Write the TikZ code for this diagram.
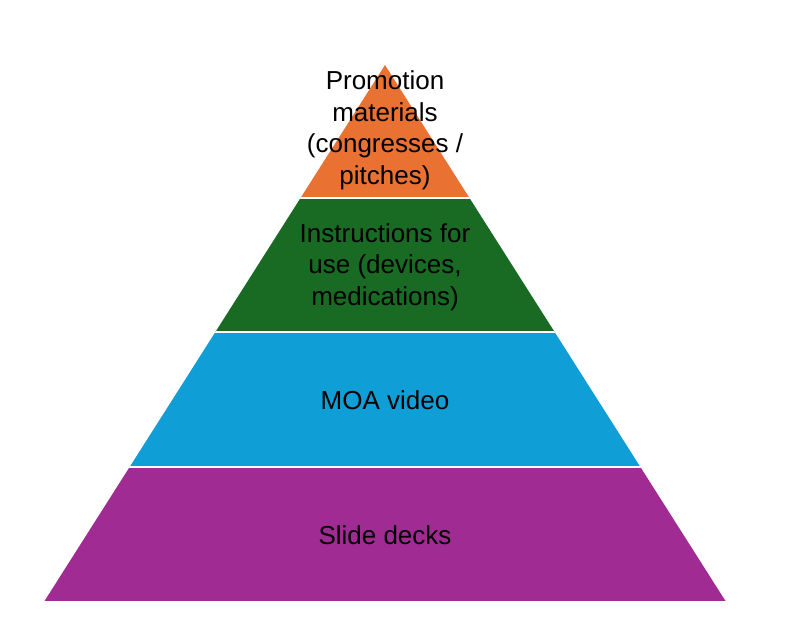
\documentclass[tikz,border=0pt]{standalone}
\usepackage{fontspec}
\setmainfont{Liberation Sans}
\definecolor{porange}{HTML}{E97132}
\definecolor{pgreen}{HTML}{196B24}
\definecolor{pblue}{HTML}{0F9ED5}
\definecolor{ppurple}{HTML}{A02B93}
\begin{document}
\begin{tikzpicture}[x=1pt,y=-1pt,
  label/.style={align=center,font=\fontsize{26}{31.5}\selectfont,text=black,inner sep=0pt}]
\useasboundingbox (0,0) rectangle (792,633);
\begin{scope}
  \clip (385,65) -- (725.5,601) -- (44.5,601) -- cycle;
  \fill[porange] (0,0) rectangle (792,198);
  \fill[pgreen] (0,198) rectangle (792,332);
  \fill[pblue] (0,332) rectangle (792,467);
  \fill[ppurple] (0,467) rectangle (792,601);
  \draw[white,line width=2pt] (0,198) -- (792,198) (0,332) -- (792,332) (0,467) -- (792,467);
\end{scope}
\node[label] (top) at (385,130.5) {Promotion\\materials\\(congresses /\\pitches)};
\node[label] (ifu) at (385,267) {Instructions for\\use (devices,\\medications)};
\node[label] (moa) at (385,400) {MOA video};
\node[label] (slides) at (385,535) {Slide decks};
\end{tikzpicture}
\end{document}
